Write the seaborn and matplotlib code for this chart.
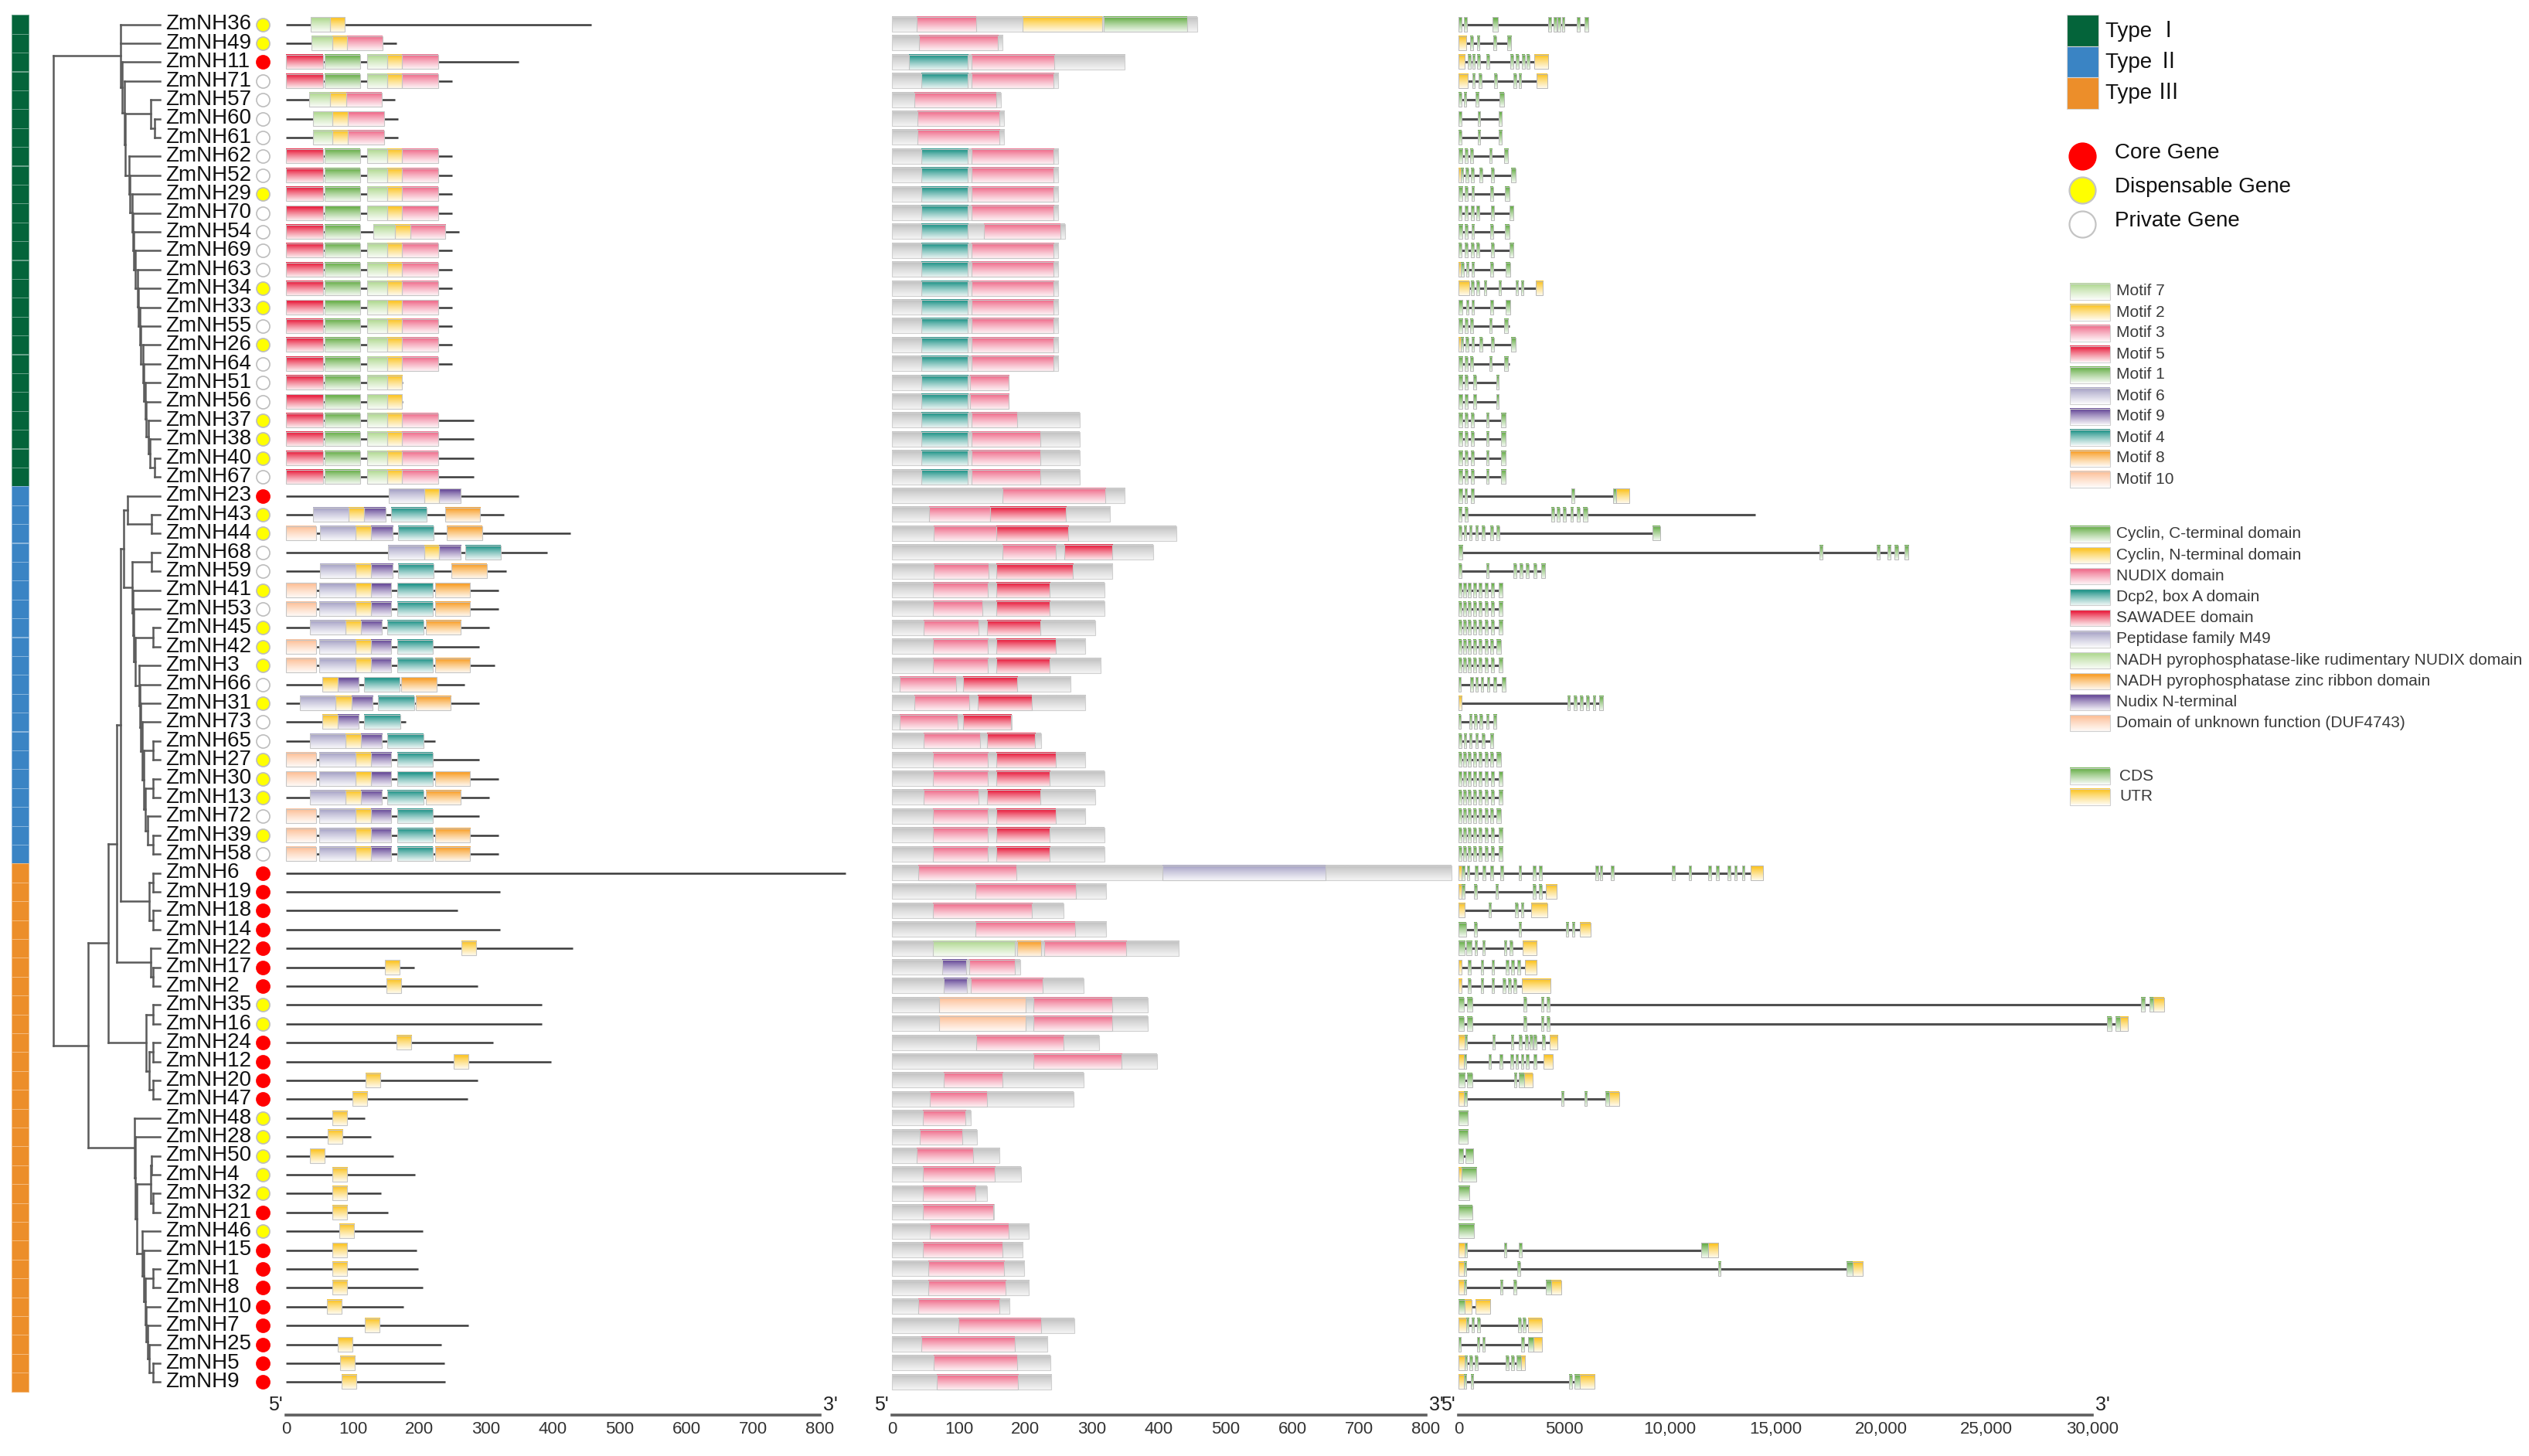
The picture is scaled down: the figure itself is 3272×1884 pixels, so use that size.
import numpy as np
import pandas as pd
import matplotlib
matplotlib.use("Agg")
import matplotlib.pyplot as plt
import matplotlib.colors as mcolors
from matplotlib.patches import Rectangle
from matplotlib.collections import LineCollection
import seaborn as sns

sns.set_style("white")
plt.rcParams["font.family"] = ["Liberation Sans", "Noto Sans CJK SC", "DejaVu Sans"]

# ---------------- data ----------------
GENES = ["ZmNH36", "ZmNH49", "ZmNH11", "ZmNH71", "ZmNH57", "ZmNH60", "ZmNH61", "ZmNH62", "ZmNH52",
         "ZmNH29", "ZmNH70", "ZmNH54", "ZmNH69", "ZmNH63", "ZmNH34", "ZmNH33", "ZmNH55", "ZmNH26",
         "ZmNH64", "ZmNH51", "ZmNH56", "ZmNH37", "ZmNH38", "ZmNH40", "ZmNH67",
         "ZmNH23", "ZmNH43", "ZmNH44", "ZmNH68", "ZmNH59", "ZmNH41", "ZmNH53", "ZmNH45", "ZmNH42",
         "ZmNH3", "ZmNH66", "ZmNH31", "ZmNH73", "ZmNH65", "ZmNH27", "ZmNH30", "ZmNH13", "ZmNH72",
         "ZmNH39", "ZmNH58",
         "ZmNH6", "ZmNH19", "ZmNH18", "ZmNH14", "ZmNH22", "ZmNH17", "ZmNH2", "ZmNH35", "ZmNH16",
         "ZmNH24", "ZmNH12", "ZmNH20", "ZmNH47", "ZmNH48", "ZmNH28", "ZmNH50", "ZmNH4", "ZmNH32",
         "ZmNH21", "ZmNH46", "ZmNH15", "ZmNH1", "ZmNH8", "ZmNH10", "ZmNH7", "ZmNH25", "ZmNH5", "ZmNH9"]

TYPE_NAMES = ["Type Ⅰ", "Type Ⅱ", "Type Ⅲ"]
TYPE_COUNTS = [25, 20, 28]
TYPE_COLORS = ["#04643a", "#3a84c4", "#ec8e2a"]

# C = core, D = dispensable, P = private
GENE_CLASS = ["D", "D", "C", "P", "P", "P", "P", "P", "P", "D", "P", "P", "P", "P", "D", "D", "P", "D",
              "P", "P", "P", "D", "D", "D", "P",
              "C", "D", "D", "P", "P", "D", "P", "D", "D", "D", "P", "D", "P", "P", "D", "D", "D", "P",
              "D", "P",
              "C", "C", "C", "C", "C", "C", "C", "D", "D", "C", "C", "C", "C", "D", "D", "D", "D", "D",
              "C", "D", "C", "C", "C", "C", "C", "C", "C", "C"]
CLASS_NAMES = {"C": "Core Gene", "D": "Dispensable Gene", "P": "Private Gene"}
CLASS_FACE = {"C": "#ff0000", "D": "#ffff00", "P": "#ffffff"}

PROT_LEN = [457, 166, 349, 249, 163, 168, 168, 249, 249, 249, 249, 259, 249, 249, 249, 249, 249, 249,
            249, 175, 175, 281, 281, 281, 281,
            349, 327, 426, 391, 330, 318, 318, 304, 290, 313, 268, 290, 179, 223, 290, 318, 304, 290,
            318, 318,
            838, 321, 257, 321, 430, 192, 287, 383, 383, 310, 397, 287, 272, 118, 127, 161, 193, 142,
            153, 205, 196, 198, 205, 176, 273, 233, 237, 239]

# motif positions (aa)
M_I = [(0, 55, "5"), (58, 111, "1"), (121, 152, "7"), (152, 174, "2"), (174, 228, "3")]
M_36 = [(37, 66, "7"), (66, 88, "2")]
M_49 = [(38, 69, "7"), (69, 92, "2"), (92, 145, "3")]
M_57 = [(35, 66, "7"), (66, 90, "2"), (90, 143, "3")]
M_60 = [(40, 70, "7"), (70, 93, "2"), (93, 147, "3")]
M_54 = [(0, 55, "5"), (58, 111, "1"), (131, 163, "7"), (163, 186, "2"), (186, 239, "3")]
M_51 = [(0, 55, "5"), (58, 111, "1"), (121, 152, "7"), (152, 174, "2")]
M_23 = [(154, 207, "6"), (207, 229, "2"), (229, 262, "9")]
M_43 = [(41, 94, "6"), (94, 117, "2"), (117, 149, "9"), (158, 211, "4"), (238, 291, "8")]
M_44 = [(0, 45, "10"), (51, 104, "6"), (104, 127, "2"), (127, 160, "9"), (168, 221, "4"), (241, 294, "8")]
M_68 = [(153, 207, "6"), (207, 229, "2"), (229, 262, "9"), (269, 322, "4")]
M_59 = [(51, 104, "6"), (104, 127, "2"), (127, 160, "9"), (168, 221, "4"), (248, 301, "8")]
M_II = [(0, 45, "10"), (50, 104, "6"), (104, 127, "2"), (127, 158, "9"), (167, 220, "4"), (223, 276, "8")]
M_IIb = [(0, 45, "10"), (50, 104, "6"), (104, 127, "2"), (127, 158, "9"), (167, 220, "4")]
M_IIc = [(36, 89, "6"), (89, 112, "2"), (112, 144, "9"), (152, 206, "4"), (209, 262, "8")]
M_66 = [(54, 77, "2"), (77, 109, "9"), (117, 170, "4"), (173, 226, "8")]
M_31 = [(21, 74, "6"), (74, 98, "2"), (98, 130, "9"), (138, 192, "4"), (194, 247, "8")]
M_73 = [(54, 77, "2"), (77, 109, "9"), (117, 171, "4")]
M_65 = [(36, 89, "6"), (89, 112, "2"), (112, 144, "9"), (152, 206, "4")]
MOTIFS = [M_36, M_49, M_I, M_I, M_57, M_60, M_60, M_I, M_I, M_I, M_I, M_54, M_I, M_I, M_I, M_I, M_I,
          M_I, M_I, M_51, M_51, M_I, M_I, M_I, M_I,
          M_23, M_43, M_44, M_68, M_59, M_II, M_II, M_IIc, M_IIb, M_II, M_66, M_31, M_73, M_65,
          M_IIb, M_II, M_IIc, M_IIb, M_II, M_II,
          [], [], [], [], [(263, 285, "2")], [(148, 170, "2")], [(150, 172, "2")], [], [],
          [(165, 187, "2")], [(251, 273, "2")], [(119, 141, "2")], [(99, 121, "2")], [(69, 91, "2")],
          [(62, 84, "2")], [(36, 58, "2")], [(69, 91, "2")], [(69, 91, "2")], [(69, 91, "2")],
          [(80, 102, "2")], [(69, 91, "2")], [(69, 91, "2")], [(69, 91, "2")], [(61, 83, "2")],
          [(118, 140, "2")], [(78, 100, "2")], [(81, 103, "2")], [(83, 105, "2")]]
MOTIF_ORDER = ["7", "2", "3", "5", "1", "6", "9", "4", "8", "10"]
MOTIF_COLORS = {"7": "#b3da95", "2": "#fcc62a", "3": "#f0718f", "5": "#e92342", "1": "#6cb14e",
                "6": "#aaa6c8", "9": "#6b4f9b", "4": "#25968b", "8": "#f9a12d", "10": "#fdc29b"}

# domain positions (aa)
D_I = [(44, 114, "Dcp2"), (119, 242, "NUDIX")]
D_II = [(61, 144, "NUDIX"), (156, 236, "SAW")]
D_IIb = [(61, 144, "NUDIX"), (156, 245, "SAW")]
D_IIc = [(48, 130, "NUDIX"), (142, 222, "SAW")]
DOMAINS = [[(37, 126, "NUDIX"), (196, 315, "CycN"), (317, 442, "CycC")], [(40, 159, "NUDIX")],
           [(25, 114, "Dcp2"), (119, 243, "NUDIX")], D_I, [(34, 156, "NUDIX")], [(38, 161, "NUDIX")],
           [(38, 161, "NUDIX")], D_I, D_I, D_I, D_I, [(44, 114, "Dcp2"), (138, 252, "NUDIX")], D_I, D_I,
           D_I, D_I, D_I, D_I, D_I, [(44, 114, "Dcp2"), (117, 175, "NUDIX")],
           [(44, 114, "Dcp2"), (117, 175, "NUDIX")], [(44, 114, "Dcp2"), (119, 187, "NUDIX")],
           [(44, 114, "Dcp2"), (119, 222, "NUDIX")], [(44, 114, "Dcp2"), (119, 222, "NUDIX")],
           [(44, 114, "Dcp2"), (119, 222, "NUDIX")],
           [(165, 320, "NUDIX")], [(56, 147, "NUDIX"), (147, 261, "SAW")],
           [(63, 156, "NUDIX"), (156, 264, "SAW")], [(165, 246, "NUDIX"), (258, 330, "SAW")],
           [(63, 145, "NUDIX"), (156, 271, "SAW")], D_II, [(61, 135, "NUDIX"), (156, 236, "SAW")],
           D_IIc, D_IIb, D_II, [(12, 96, "NUDIX"), (106, 188, "SAW")],
           [(34, 116, "NUDIX"), (128, 209, "SAW")], [(12, 98, "NUDIX"), (106, 178, "SAW")],
           [(48, 132, "NUDIX"), (142, 214, "SAW")], D_IIb, D_II, D_IIc, D_IIb, D_II, D_II,
           [(39, 186, "NUDIX"), (405, 649, "Pep")], [(125, 275, "NUDIX")], [(61, 210, "NUDIX")],
           [(125, 274, "NUDIX")], [(61, 184, "NADHr"), (188, 223, "NADHz"), (228, 351, "NUDIX")],
           [(75, 111, "NudN"), (116, 184, "NUDIX")], [(77, 112, "NudN"), (118, 226, "NUDIX")],
           [(71, 200, "DUF"), (212, 330, "NUDIX")], [(71, 200, "DUF"), (212, 330, "NUDIX")],
           [(126, 257, "NUDIX")], [(212, 344, "NUDIX")], [(78, 166, "NUDIX")], [(57, 142, "NUDIX")],
           [(46, 110, "NUDIX")], [(42, 105, "NUDIX")], [(37, 121, "NUDIX")], [(46, 154, "NUDIX")],
           [(46, 125, "NUDIX")], [(46, 152, "NUDIX")], [(57, 175, "NUDIX")], [(46, 165, "NUDIX")],
           [(54, 168, "NUDIX")], [(54, 170, "NUDIX")], [(39, 161, "NUDIX")], [(100, 223, "NUDIX")],
           [(44, 184, "NUDIX")], [(63, 187, "NUDIX")], [(67, 189, "NUDIX")]]
DOMAIN_ORDER = ["CycC", "CycN", "NUDIX", "Dcp2", "SAW", "Pep", "NADHr", "NADHz", "NudN", "DUF"]
DOMAIN_NAMES = {"CycC": "Cyclin, C-terminal domain", "CycN": "Cyclin, N-terminal domain",
                "NUDIX": "NUDIX domain", "Dcp2": "Dcp2, box A domain", "SAW": "SAWADEE domain",
                "Pep": "Peptidase family M49",
                "NADHr": "NADH pyrophosphatase-like rudimentary NUDIX domain",
                "NADHz": "NADH pyrophosphatase zinc ribbon domain", "NudN": "Nudix N-terminal",
                "DUF": "Domain of unknown function (DUF4743)"}
DOMAIN_COLORS = {"CycC": "#6cb14e", "CycN": "#fcc62a", "NUDIX": "#f0718f", "Dcp2": "#25968b",
                 "SAW": "#e92342", "Pep": "#aaa6c8", "NADHr": "#b3da95", "NADHz": "#f9a12d",
                 "NudN": "#6b4f9b", "DUF": "#fdc29b"}

# gene structures (bp); C = CDS, U = UTR
GENE_LEN = [6150, 2500, 4250, 4200, 2150, 2050, 2050, 2350, 2700, 2400, 2600, 2400, 2600, 2450, 4000,
            2450, 2400, 2700, 2400, 1900, 1900, 2250, 2250, 2250, 2250,
            8100, 14050, 9550, 21300, 4100, 2100, 2100, 2100, 2000, 2100, 2250, 6850, 1800, 1650,
            2000, 2100, 2100, 2000, 2100, 2100,
            14400, 4650, 4200, 6250, 3700, 3700, 4350, 33400, 31700, 4700, 4450, 3500, 7600, 450,
            450, 700, 850, 520, 650, 750, 12300, 19150, 4850, 1500, 3950, 3950, 3150, 6450]
E_62 = [(0, 200, "C"), (300, 430, "C"), (550, 680, "C"), (1450, 1580, "C"), (2150, 2350, "C")]
E_29 = [(0, 200, "C"), (300, 430, "C"), (620, 750, "C"), (1500, 1630, "C"), (2200, 2400, "C")]
E_70 = [(0, 130, "C"), (300, 430, "C"), (600, 730, "C"), (850, 980, "C"), (1550, 1680, "C"),
        (2400, 2600, "C")]
E_51 = [(0, 200, "C"), (300, 430, "C"), (700, 830, "C"), (1780, 1900, "C")]
E_37 = [(0, 200, "C"), (300, 430, "C"), (600, 730, "C"), (1300, 1430, "C"), (2000, 2250, "C")]
E_60 = [(0, 130, "C"), (900, 1030, "C"), (1900, 2050, "C")]
E_41 = [(0, 130, "C"), (230, 360, "C"), (450, 580, "C"), (700, 830, "C"), (950, 1080, "C"),
        (1250, 1380, "C"), (1550, 1680, "C"), (1900, 2100, "C")]
E_42 = [(0, 130, "C"), (230, 360, "C"), (450, 580, "C"), (700, 830, "C"), (950, 1080, "C"),
        (1250, 1380, "C"), (1500, 1630, "C"), (1800, 2000, "C")]
EXONS = [
    [(0, 130, "C"), (260, 390, "C"), (1600, 1850, "C"), (4250, 4380, "C"), (4500, 4630, "C"),
     (4700, 4830, "C"), (4900, 5030, "C"), (5600, 5730, "C"), (5980, 6150, "C")],
    [(0, 380, "U"), (560, 690, "C"), (870, 1000, "C"), (1650, 1780, "C"), (2300, 2500, "C")],
    [(0, 300, "U"), (450, 580, "C"), (650, 780, "C"), (880, 1010, "C"), (1330, 1460, "C"),
     (2450, 2580, "C"), (2720, 2850, "C"), (3000, 3130, "C"), (3230, 3360, "C"), (3580, 4250, "U")],
    [(0, 450, "U"), (650, 780, "C"), (950, 1080, "C"), (1700, 1830, "C"), (2600, 2730, "C"),
     (2850, 2980, "C"), (3700, 4200, "U")],
    [(0, 130, "C"), (250, 380, "C"), (800, 950, "C"), (1950, 2150, "C")],
    E_60, E_60, E_62,
    [(0, 120, "U"), (120, 230, "C"), (330, 460, "C"), (600, 730, "C"), (1000, 1130, "C"),
     (1550, 1680, "C"), (2500, 2700, "C")],
    E_29, E_70, E_29, E_70,
    [(0, 120, "U"), (120, 250, "C"), (350, 480, "C"), (620, 750, "C"), (1500, 1630, "C"),
     (2250, 2450, "C")],
    [(0, 500, "U"), (600, 730, "C"), (850, 980, "C"), (1200, 1330, "C"), (1900, 2030, "C"),
     (2700, 2830, "C"), (2950, 3080, "C"), (3650, 4000, "U")],
    [(0, 200, "C"), (350, 480, "C"), (620, 750, "C"), (1500, 1630, "C"), (2250, 2450, "C")],
    E_62,
    [(0, 100, "U"), (100, 230, "C"), (330, 460, "C"), (620, 750, "C"), (1000, 1130, "C"),
     (1550, 1680, "C"), (2500, 2700, "C")],
    E_62, E_51, E_51, E_37, E_37, E_37, E_37,
    [(0, 200, "C"), (280, 410, "C"), (600, 730, "C"), (5350, 5480, "C"), (7300, 7450, "C"),
     (7450, 8100, "U")],
    [(0, 150, "C"), (300, 430, "C"), (4400, 4530, "C"), (4650, 4780, "C"), (4950, 5080, "C"),
     (5300, 5430, "C"), (5600, 5730, "C"), (5900, 6100, "C")],
    [(0, 130, "C"), (250, 380, "C"), (500, 630, "C"), (800, 930, "C"), (1100, 1230, "C"),
     (1500, 1630, "C"), (1800, 1930, "C"), (9200, 9550, "C")],
    [(0, 200, "C"), (17100, 17250, "C"), (19800, 19950, "C"), (20300, 20450, "C"),
     (20650, 20800, "C"), (21100, 21300, "C")],
    [(0, 130, "C"), (1300, 1430, "C"), (2600, 2730, "C"), (2900, 3030, "C"), (3200, 3330, "C"),
     (3550, 3680, "C"), (3900, 4100, "C")],
    E_41, E_41, E_41, E_42, E_41,
    [(0, 100, "C"), (550, 680, "C"), (800, 930, "C"), (1050, 1180, "C"), (1350, 1480, "C"),
     (1650, 1780, "C"), (2050, 2250, "C")],
    [(0, 150, "U"), (5150, 5280, "C"), (5450, 5580, "C"), (5750, 5880, "C"), (6050, 6180, "C"),
     (6350, 6480, "C"), (6650, 6850, "C")],
    [(0, 100, "C"), (500, 630, "C"), (750, 880, "C"), (1000, 1130, "C"), (1300, 1430, "C"),
     (1650, 1800, "C")],
    [(0, 130, "C"), (250, 380, "C"), (500, 630, "C"), (800, 930, "C"), (1100, 1230, "C"),
     (1500, 1650, "C")],
    E_42, E_41, E_41, E_42, E_41, E_41,
    [(0, 150, "U"), (150, 300, "C"), (400, 530, "C"), (780, 910, "C"), (1150, 1280, "C"),
     (1500, 1630, "C"), (1980, 2110, "C"), (2850, 2980, "C"), (3520, 3650, "C"), (3820, 3950, "C"),
     (6480, 6610, "C"), (6680, 6810, "C"), (7220, 7350, "C"), (10100, 10230, "C"),
     (10900, 11030, "C"), (11820, 11950, "C"), (12200, 12330, "C"), (12750, 12880, "C"),
     (13050, 13180, "C"), (13420, 13550, "C"), (13840, 14400, "U")],
    [(0, 150, "U"), (150, 300, "C"), (750, 880, "C"), (1750, 1880, "C"), (3520, 3650, "C"),
     (3820, 3950, "C"), (4130, 4650, "U")],
    [(0, 300, "U"), (1420, 1550, "C"), (2680, 2810, "C"), (2960, 3090, "C"), (3450, 4200, "U")],
    [(0, 350, "C"), (750, 880, "C"), (2850, 2980, "C"), (5070, 5200, "C"), (5360, 5490, "C"),
     (5750, 6250, "U")],
    [(0, 300, "C"), (350, 620, "C"), (760, 890, "C"), (1120, 1250, "C"), (2150, 2280, "C"),
     (2420, 2550, "C"), (3030, 3700, "U")],
    [(0, 150, "U"), (450, 580, "C"), (1050, 1180, "C"), (1560, 1690, "C"), (2230, 2360, "C"),
     (2490, 2620, "C"), (2780, 2910, "C"), (3140, 3700, "U")],
    [(0, 150, "U"), (450, 580, "C"), (1050, 1180, "C"), (1560, 1690, "C"), (2100, 2230, "C"),
     (2350, 2480, "C"), (2600, 2730, "C"), (2990, 4350, "U")],
    [(0, 250, "C"), (400, 650, "C"), (3080, 3210, "C"), (3900, 4030, "C"), (4180, 4310, "C"),
     (32300, 32500, "C"), (32700, 32900, "C"), (32900, 33400, "U")],
    [(0, 250, "C"), (400, 650, "C"), (3080, 3210, "C"), (3900, 4030, "C"), (4180, 4310, "C"),
     (30700, 30900, "C"), (31100, 31300, "C"), (31300, 31700, "U")],
    [(0, 300, "U"), (300, 420, "C"), (1600, 1730, "C"), (2480, 2610, "C"), (2860, 2990, "C"),
     (3150, 3280, "C"), (3380, 3510, "C"), (3560, 3690, "C"), (3960, 4090, "C"), (4320, 4700, "U")],
    [(0, 250, "U"), (250, 380, "C"), (1420, 1550, "C"), (1950, 2080, "C"), (2450, 2580, "C"),
     (2700, 2830, "C"), (2950, 3080, "C"), (3200, 3330, "C"), (3550, 3680, "C"), (4020, 4450, "U")],
    [(0, 300, "C"), (400, 650, "C"), (2620, 2750, "C"), (2850, 3100, "C"), (3100, 3500, "U")],
    [(0, 250, "U"), (250, 400, "C"), (4850, 4980, "C"), (5950, 6080, "C"), (6950, 7150, "C"),
     (7150, 7600, "U")],
    [(0, 450, "C")], [(0, 450, "C")], [(0, 220, "C"), (320, 700, "C")], [(0, 150, "U"), (150, 850, "C")],
    [(0, 520, "C")], [(0, 650, "C")], [(0, 750, "C")],
    [(0, 300, "U"), (300, 420, "C"), (2150, 2280, "C"), (2860, 2990, "C"), (11500, 11800, "C"),
     (11800, 12300, "U")],
    [(0, 250, "U"), (250, 360, "C"), (2780, 2910, "C"), (12280, 12410, "C"), (18350, 18650, "C"),
     (18650, 19150, "U")],
    [(0, 250, "U"), (250, 360, "C"), (1970, 2100, "C"), (2600, 2730, "C"), (4130, 4400, "C"),
     (4400, 4850, "U")],
    [(0, 300, "C"), (300, 620, "U"), (800, 1500, "U")],
    [(0, 350, "U"), (350, 470, "C"), (620, 750, "C"), (880, 1010, "C"), (2830, 2960, "C"),
     (3050, 3180, "C"), (3300, 3950, "U")],
    [(0, 110, "C"), (860, 990, "C"), (1120, 1250, "C"), (2980, 3110, "C"), (3300, 3550, "C"),
     (3550, 3950, "U")],
    [(0, 300, "U"), (300, 420, "C"), (530, 660, "C"), (780, 910, "C"), (2230, 2360, "C"),
     (2490, 2620, "C"), (2760, 2950, "C"), (2950, 3150, "U")],
    [(0, 250, "U"), (250, 360, "C"), (580, 710, "C"), (5230, 5360, "C"), (5500, 5750, "C"),
     (5750, 6450, "U")],
]

# phylogeny: (node depth, children); tips sit at depth TIP_DEPTH
TIP_DEPTH = 197


def ladder(items, depths, tail):
    node = tail
    for item, d in zip(reversed(items), reversed(depths)):
        node = (d, [item, node])
    return node


T1_LADDER = ladder(["ZmNH62", "ZmNH52", "ZmNH29", "ZmNH70", "ZmNH54", "ZmNH69", "ZmNH63", "ZmNH34",
                    "ZmNH33", "ZmNH55", "ZmNH26", "ZmNH64", "ZmNH51", "ZmNH56", "ZmNH37", "ZmNH38"],
                   [140, 142, 145, 147, 149, 152, 155, 157, 160, 162, 165, 167, 170, 172, 175, 178],
                   (187, ["ZmNH40", "ZmNH67"]))
T1 = (124, ["ZmNH36", "ZmNH49",
            (127, ["ZmNH11", (131, ["ZmNH71",
                                    (133, [(180, ["ZmNH57", (187, ["ZmNH60", "ZmNH61"])]),
                                           T1_LADDER])])])])
T2_LADDER = ladder(["ZmNH41", "ZmNH53", (184, ["ZmNH45", "ZmNH42"]), "ZmNH3", "ZmNH66", "ZmNH31",
                    "ZmNH73", (184, ["ZmNH65", "ZmNH27"]), (184, ["ZmNH30", "ZmNH13"]), "ZmNH72"],
                   [147, 149, 152, 158, 160, 162, 164, 167, 170, 174],
                   (184, ["ZmNH39", "ZmNH58"]))
T2 = (130, [(137, ["ZmNH23", (182, ["ZmNH43", "ZmNH44"])]),
            (145, [(182, ["ZmNH68", "ZmNH59"]), T2_LADDER])])
C1 = (177, [(184, ["ZmNH6", "ZmNH19"]), (184, ["ZmNH18", "ZmNH14"])])
C2 = (180, ["ZmNH22", (184, ["ZmNH17", "ZmNH2"])])
K3 = (172, [(184, ["ZmNH35", "ZmNH16"]),
            (177, [(184, ["ZmNH24", "ZmNH12"]), (184, ["ZmNH20", "ZmNH47"])])])
I3_LADDER = ladder(["ZmNH46", "ZmNH15", (184, ["ZmNH1", "ZmNH8"]), "ZmNH10", "ZmNH7", "ZmNH25"],
                   [164, 167, 170, 172, 174, 177], (184, ["ZmNH5", "ZmNH9"]))
I3 = ladder(["ZmNH48", "ZmNH28"], [150, 152],
            (154, [(180, [(182, ["ZmNH50", "ZmNH4"]), (184, ["ZmNH32", "ZmNH21"])]), I3_LADDER]))
G3 = (64, [(102, [(117, [(124, [T2, C1]), C2]), K3]), I3])
TREE = (0, [T1, G3])

# ---------------- layout (pixels of the 3272 x 1884 canvas) ----------------
W, H = 3272, 1884
ROW0, DY = 31.5, 24.4
SCALE_PX = 1831
Y_TOP = -0.5
Y_BOT = (SCALE_PX - ROW0) / DY

fig = plt.figure(figsize=(W / 200, H / 200), dpi=200)


def add_ax(x0, x1):
    y0 = ROW0 + Y_TOP * DY
    ax = fig.add_axes([x0 / W, 1 - SCALE_PX / H, (x1 - x0) / W, (SCALE_PX - y0) / H])
    ax.patch.set_alpha(0)
    return ax


def gradient(color, fade=0.9, n=32):
    c = np.array(mcolors.to_rgb(color))
    t = np.linspace(0, 1, n)
    f = fade * np.clip((t - 0.12) / 0.88, 0, 1) ** 0.85
    return (c[None, :] * (1 - f[:, None]) + f[:, None])[:, None, :]


def box(ax, x0, x1, y, h, color, fade=0.9, ec="#c6c6c6", lw=0.4, z=3):
    ax.imshow(gradient(color, fade), extent=(x0, x1, y + h / 2, y - h / 2), aspect="auto",
              interpolation="bilinear", zorder=z, clip_on=False)
    ax.add_patch(Rectangle((x0, y - h / 2), x1 - x0, h, fill=False, ec=ec, lw=lw,
                           zorder=z + 0.1, clip_on=False))


rows = np.arange(len(GENES))

# ---- tree / labels / circles panel ----
ROOT_PX, TIP_PX = 68.8, 207.0
scale = (TIP_PX - ROOT_PX) / TIP_DEPTH


def px2d(px):
    return (px - ROOT_PX) / scale


axt = add_ax(0, 365)
row_of = {g: i for i, g in enumerate(GENES)}
segs = []


def layout(node):
    if isinstance(node, str):
        return row_of[node], TIP_DEPTH
    d, children = node
    ys = []
    for ch in children:
        y, cd = layout(ch)
        segs.append([(d, y), (cd, y)])
        ys.append(y)
    segs.append([(d, min(ys)), (d, max(ys))])
    return (min(ys) + max(ys)) / 2, d


layout(TREE)
axt.add_collection(LineCollection(segs, colors="#5a5a5a", linewidths=0.9, capstyle="projecting"))

# type colour bar
start = 0
for name, cnt, col in zip(TYPE_NAMES, TYPE_COUNTS, TYPE_COLORS):
    for r in range(start, start + cnt):
        axt.add_patch(Rectangle((px2d(15.4), r - 0.5), px2d(37.2) - px2d(15.4), 1.0,
                                fc=col, ec=mcolors.to_hex(np.array(mcolors.to_rgb(col)) * 0.6 + 0.4),
                                lw=0.35))
    start += cnt

for i, g in enumerate(GENES):
    axt.text(px2d(214), i, g, ha="left", va="center", fontsize=10, color="#111111")

circ = pd.DataFrame({"x": px2d(340), "row": rows, "cls": GENE_CLASS})
for c in ["C", "D", "P"]:
    sub = circ[circ.cls == c]
    sns.scatterplot(data=sub, x="x", y="row", color=CLASS_FACE[c], s=38,
                    edgecolor="#ff0000" if c == "C" else "#bdbdbd", linewidth=0.6,
                    legend=False, ax=axt, zorder=5)
axt.set_xlim(px2d(0), px2d(365))
axt.set_ylim(Y_BOT, Y_TOP)
axt.set_axis_off()

# ---- motif panel ----
axm = add_ax(370, 1061)
for i in rows:
    axm.plot([0, PROT_LEN[i]], [i, i], color="#3a3a3a", lw=0.9, zorder=2, clip_on=False,
             solid_capstyle="butt")
    for s, e, m in MOTIFS[i]:
        box(axm, s, e, i, 0.74, MOTIF_COLORS[m])

# ---- domain panel ----
axd = add_ax(1154, 1845)
for i in rows:
    box(axd, 0, PROT_LEN[i], i, 0.78, "#c4c4c4", fade=0.8, ec="#d0d0d0", z=2)
    for s, e, d in DOMAINS[i]:
        box(axd, s, e, i, 0.78, DOMAIN_COLORS[d], fade=0.88)

# ---- gene structure panel ----
axg = add_ax(1887, 2707)
for i in rows:
    axg.plot([0, GENE_LEN[i]], [i, i], color="#505050", lw=1.1, zorder=2, clip_on=False,
             solid_capstyle="butt")
    for s, e, k in EXONS[i]:
        box(axg, s, e, i, 0.74, "#6cb14e" if k == "C" else "#fcc62a", fade=0.9, ec="#b9b9b9", lw=0.35)

# scale axes
for ax, xmax, ticks, labels in [
        (axm, 800, list(range(0, 801, 100)), None),
        (axd, 800, list(range(0, 801, 100)), None),
        (axg, 30000, [0, 5000, 10000, 15000, 20000, 25000, 30000],
         ["0", "5000", "10,000", "15,000", "20,000", "25,000", "30,000"])]:
    ax.set_xlim(0, xmax)
    ax.set_ylim(Y_BOT, Y_TOP)
    sns.despine(ax=ax, left=True, top=True, right=True, bottom=False)
    ax.spines["bottom"].set_color("#5e5e5e")
    ax.spines["bottom"].set_linewidth(1.3)
    ax.set_yticks([])
    ax.set_xticks(ticks)
    if labels is not None:
        ax.set_xticklabels(labels)
    ax.tick_params(axis="x", direction="in", length=3.5, width=0.8, colors="#333333",
                   labelsize=8, pad=3)
    ax.annotate("5'", xy=(0, Y_BOT), xytext=(-1.5, 0.5), textcoords="offset points",
                ha="right", va="bottom", fontsize=9, color="#222222", annotation_clip=False)
    ax.annotate("3'", xy=(xmax, Y_BOT), xytext=(1.5, 0.5), textcoords="offset points",
                ha="left", va="bottom", fontsize=9, color="#222222", annotation_clip=False)
    ax.set_xlabel("")
    ax.set_ylabel("")

# ---- legend panel (pixel coordinates) ----
axl = fig.add_axes([2650 / W, 1 - 1060 / H, (3272 - 2650) / W, 1060 / H])
axl.patch.set_alpha(0)
ty = [19, 59.5, 100]
for k, (name, col) in enumerate(zip(TYPE_NAMES, TYPE_COLORS)):
    axl.add_patch(Rectangle((2674, ty[k]), 41, 40.5, fc=col, ec="#d8d8d8", lw=0.4))
    axl.text(2724, ty[k] + 21, name, ha="left", va="center", fontsize=10, color="#111111")
for k, c in enumerate(["C", "D", "P"]):
    yy = 202 + k * 44
    axl.scatter([2694], [yy], s=150, c=CLASS_FACE[c],
                edgecolors="#ff0000" if c == "C" else "#c4c4c4", linewidths=0.8, zorder=5)
    axl.text(2736, yy - 4, CLASS_NAMES[c], ha="left", va="center", fontsize=10, color="#111111")
for k, m in enumerate(MOTIF_ORDER):
    yy = 377 + k * 27
    box(axl, 2678, 2730, yy, 21, MOTIF_COLORS[m], fade=0.9, ec="#d0d0d0")
    axl.text(2738, yy, "Motif " + m, ha="left", va="center", fontsize=7.5, color="#3a3a3a")
for k, d in enumerate(DOMAIN_ORDER):
    yy = 691 + k * 27.2
    box(axl, 2678, 2730, yy, 21, DOMAIN_COLORS[d], fade=0.9, ec="#d0d0d0")
    axl.text(2738, yy, DOMAIN_NAMES[d], ha="left", va="center", fontsize=7.5, color="#3a3a3a")
for k, (lab, col) in enumerate([("CDS", "#6cb14e"), ("UTR", "#fcc62a")]):
    yy = 1004 + k * 27
    box(axl, 2678, 2730, yy, 21, col, fade=0.9, ec="#d0d0d0")
    axl.text(2742, yy, lab, ha="left", va="center", fontsize=7.5, color="#3a3a3a")
axl.set_xlim(2650, 3272)
axl.set_ylim(1060, 0)
axl.set_axis_off()

fig.savefig("out.png", dpi=200)
